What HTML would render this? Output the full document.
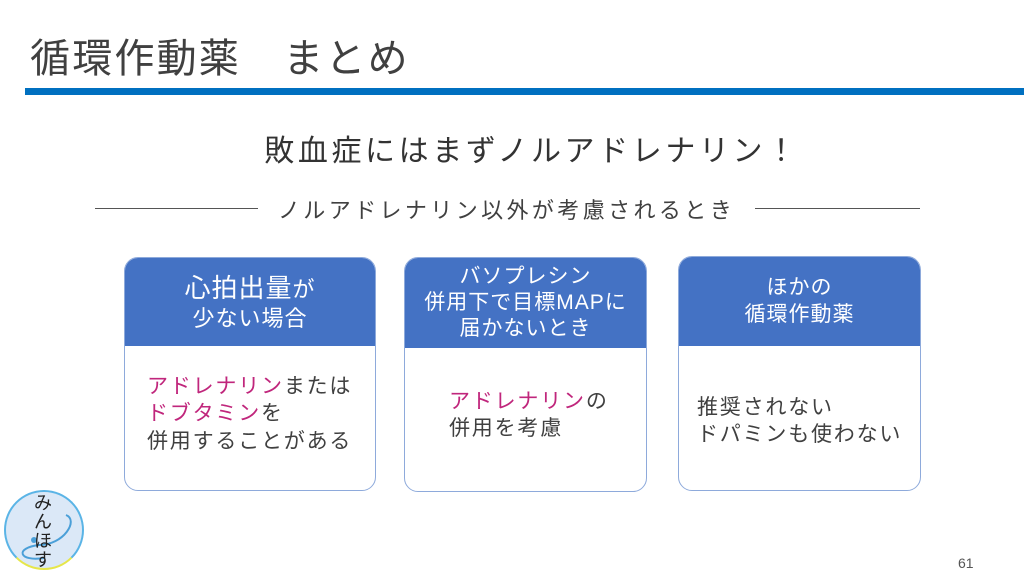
<!DOCTYPE html>
<html><head><meta charset="utf-8"><style>
body{margin:0;width:1024px;height:575px;background:#fff;position:relative;overflow:hidden;font-family:"Liberation Sans","Noto Sans CJK JP",sans-serif;color:#333}
.a{position:absolute}
.box{position:absolute;border:1.5px solid #8eaadb;border-radius:14px;overflow:hidden;background:#fff}
.hd{background:#4472c4;color:#fff;text-align:center;display:flex;align-items:center;justify-content:center;flex-direction:column;line-height:1.25;letter-spacing:1px}
.bd{position:absolute;left:0;right:0;font-size:21px;line-height:1.3;color:#404040;letter-spacing:1.8px}
.m{color:#c0267c}
</style></head><body>
<div class="a" style="left:30px;top:26px;font-size:40px;color:#404040;letter-spacing:2.2px">循環作動薬　まとめ</div>
<div class="a" style="left:25px;top:88px;width:999px;height:7px;background:#0070c0"></div>
<div class="a" style="left:20px;width:1024px;top:126px;text-align:center;font-size:30px;color:#333;letter-spacing:3.6px">敗血症にはまずノルアドレナリン！</div>
<div class="a" style="left:95px;top:208px;width:163px;height:1px;background:#555"></div>
<div class="a" style="left:755px;top:208px;width:165px;height:1px;background:#555"></div>
<div class="a" style="left:258px;width:497px;top:193px;text-align:center;font-size:22px;color:#404040;letter-spacing:3.4px">ノルアドレナリン以外が考慮されるとき</div>

<div class="box" style="left:124px;top:257px;width:250px;height:232px">
<div class="hd" style="height:88px;font-size:22px"><div><span style="font-size:26px">心拍出量</span>が</div><div>少ない場合</div></div>
<div class="bd" style="top:115px;left:22px"><span class="m">アドレナリン</span>または<br><span class="m">ドブタミン</span>を<br>併用することがある</div>
</div>
<div class="box" style="left:404px;top:257px;width:241px;height:233px">
<div class="hd" style="height:90px;font-size:21px">バソプレシン<br>併用下で目標MAPに<br>届かないとき</div>
<div class="bd" style="top:130px;left:44px"><span class="m">アドレナリン</span>の<br>併用を考慮</div>
</div>
<div class="box" style="left:678px;top:256px;width:241px;height:233px">
<div class="hd" style="height:89px;font-size:21px">ほかの<br>循環作動薬</div>
<div class="bd" style="top:137px;left:18px">推奨されない<br>ドパミンも使わない</div>
</div>

<div class="a" style="left:4px;top:490px;width:80px;height:80px;border-radius:50%;background:#dbe8f7;border:2px solid #5ab4e6;box-sizing:border-box;border-bottom-color:#e6e64a"></div>
<svg class="a" style="left:4px;top:490px" width="80" height="80"><path d="M62 25 C75 30 60 55 35 55 C10 58 15 72 40 68" stroke="#4a9fd8" stroke-width="2" fill="none"/><circle cx="30" cy="50" r="3" fill="#4a9fd8"/></svg>
<div class="a" style="left:32px;top:494px;width:22px;font-size:18px;line-height:19px;color:#222;text-align:center">み<br>ん<br>ほ<br>す</div>
<div class="a" style="left:958px;top:555px;font-size:14px;color:#555">61</div>
</body></html>
